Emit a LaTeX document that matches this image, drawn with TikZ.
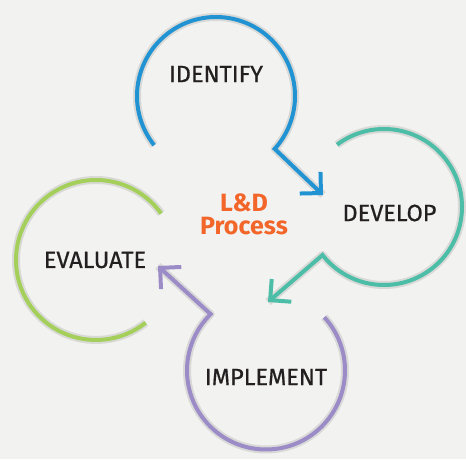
\documentclass[tikz,border=0pt]{standalone}
\usepackage{fontspec}
\setmainfont{Fira Sans}
\newfontfamily\labelfont[FakeBold=0.7]{Fira Sans}
\newfontfamily\centerfont{Fira Sans}
\usetikzlibrary{arrows.meta}
\definecolor{bgc}{HTML}{F2F2F1}
\definecolor{blueI}{HTML}{2193D2}
\definecolor{tealD}{HTML}{4CBDA6}
\definecolor{purpleM}{HTML}{9B8BC7}
\definecolor{greenE}{HTML}{A4CF5A}
\definecolor{orangeC}{HTML}{F2662A}
\definecolor{txt}{HTML}{231F20}
\tikzset{
  ring/.style={line width=4pt, line cap=butt, line join=miter},
  chev/.style={-{Straight Barb[length=15pt,width=30pt,line join=miter,line cap=butt]}},
  shade/.style={line width=8pt, draw=black, opacity=0.05, line cap=butt, line join=round},
  steplabel/.style={font=\labelfont\fontsize{23.5}{26}\selectfont, text=txt, inner sep=0pt},
  centerlabel/.style={font=\centerfont\bfseries\fontsize{25}{23}\selectfont, text=orangeC, align=center, inner sep=0pt}
}
\begin{document}
\begin{tikzpicture}[x=1pt,y=1pt]
\fill[bgc] (0,0) rectangle (466,459);
\useasboundingbox (0,0) rectangle (466,459);
% centres
\coordinate (cI) at (216,363);
\coordinate (cD) at (384,252);
\coordinate (cM) at (266,88.5);
\coordinate (cE) at (96,199);
% arrow tips
\coordinate (tipI) at (323,264);
\coordinate (tipD) at (268,157);
\coordinate (tipM) at (158,193);
% shadows
\foreach \s in {0,1}{
\begin{scope}[shift={(1.5+\s,-3-\s)}]
\draw[shade] (cI) ++(218.5:79) arc[start angle=218.5, end angle=-42, radius=79] -- (tipI);
\draw[shade] (cD) ++(127:78) arc[start angle=127, end angle=-142, radius=78] -- (tipD);
\draw[shade] (cM) ++(42.4:79) arc[start angle=42.4, end angle=-225.5, radius=79] -- (tipM);
\draw[shade] (cE) ++(35.5:80) arc[start angle=35.5, end angle=308.4, radius=80];
\end{scope}}
% rings with connectors
\draw[ring, blueI, chev] (cI) ++(218.5:79) arc[start angle=218.5, end angle=-42, radius=79] -- (tipI);
\draw[ring, tealD, chev] (cD) ++(127:78) arc[start angle=127, end angle=-142, radius=78] -- (tipD);
\draw[ring, purpleM, chev] (cM) ++(42.4:79) arc[start angle=42.4, end angle=-225.5, radius=79] -- (tipM);
\draw[ring, greenE] (cE) ++(35.5:80) arc[start angle=35.5, end angle=308.4, radius=80];
% labels
\node[steplabel] (identify) at (216,385) {IDENTIFY};
\node[steplabel] (develop) at (389.5,246) {DEVELOP};
\node[steplabel] (evaluate) at (95,199) {EVALUATE};
\node[steplabel] (implement) at (266,82) {IMPLEMENT};
\node[centerlabel] (center) at (244,245) {L\&D\\Process};
\end{tikzpicture}
\end{document}
